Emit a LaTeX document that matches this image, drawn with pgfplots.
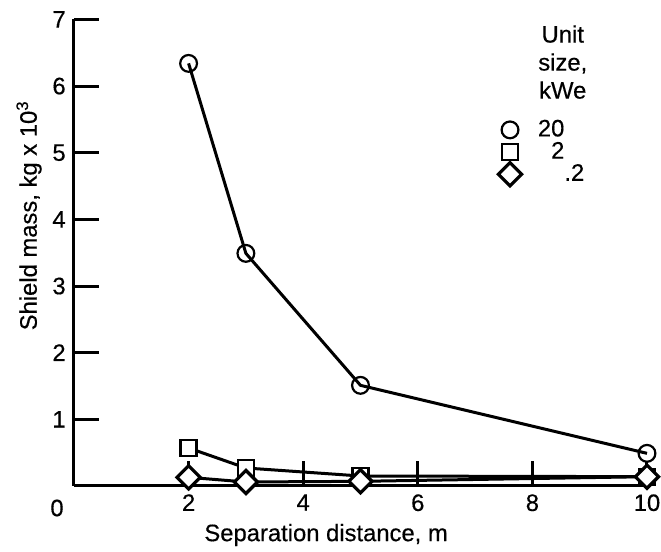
\documentclass[border=0pt]{standalone}
\usepackage{pgfplots}
\pgfplotsset{compat=1.18}
\usepackage{fontspec}
\setmainfont{Liberation Sans}[FakeBold=0.4]
\begin{document}
\fontsize{11.9pt}{14pt}\selectfont
\begin{tikzpicture}
\begin{axis}[
  name=ax,
  scale only axis,
  width=286.5pt, height=233.3pt,
  xmin=0, xmax=10, ymin=0, ymax=7,
  axis lines*=left,
  axis line style={-, line width=1.5pt},
  every tick/.style={line width=1.5pt, black},
  tick align=inside,
  major tick length=12.5pt,
  xtick={2,4,6,8,10},
  ytick={1,2,3,4,5,6,7},
  /pgf/number format/assume math mode=true,
  ticklabel style={font=\fontsize{11.9pt}{14pt}\selectfont},
  xlabel={Separation distance, m},
  ylabel={Shield mass, kg x 10\textsuperscript{3}},
  label style={font=\fontsize{11.9pt}{14pt}\selectfont},
  xlabel style={at={(rel axis cs:0.44,-0.105)}, anchor=center},
  ylabel style={at={(rel axis cs:0,0.58)}, anchor=south, yshift=12pt},
  clip=false,
  legend style={draw=none, fill=none, at={(axis cs:7.40,5.56)}, anchor=north west,
    font=\fontsize{11.9pt}{14pt}\selectfont, row sep=-3pt, inner sep=0pt},
  legend cell align=left,
  legend image code/.code={\draw[#1] plot coordinates {(0cm,0cm)}; \path[draw=none] (0cm,0cm) -- (0.42cm,0cm);},
]
\addplot[black, line width=1.5pt, mark=o, mark size=4.2pt,
  mark options={fill=white, line width=1.1pt}]
  coordinates {(2,6.34) (3,3.49) (5,1.51) (10,0.49)};
\addplot[black, line width=1.5pt, mark=square*, mark size=4pt,
  mark options={fill=white, line width=1.1pt}]
  coordinates {(2,0.57) (3,0.27) (5,0.15) (10,0.14)};
\addplot[black, line width=1.5pt, mark=square*, mark size=4.1pt,
  mark options={fill=white, line width=1.6pt, rotate=45}]
  coordinates {(2,0.13) (3,0.06) (5,0.07) (10,0.14)};
\legend{20, \hphantom{0}2, \hphantom{00}.2}
\node[align=center, font=\fontsize{11.9pt}{14pt}\selectfont] at (axis cs:8.53,6.36)
  {Unit\\size,\\kWe};
\node[font=\fontsize{11.9pt}{14pt}\selectfont] at ([xshift=-8.5pt, yshift=-11pt]axis cs:0,0) {0};
\end{axis}
\pgfresetboundingbox
\path ([shift={(-37pt,-33pt)}]ax.south west) rectangle ([shift={(293.5pt,243pt)}]ax.south west);
\end{tikzpicture}
\end{document}
